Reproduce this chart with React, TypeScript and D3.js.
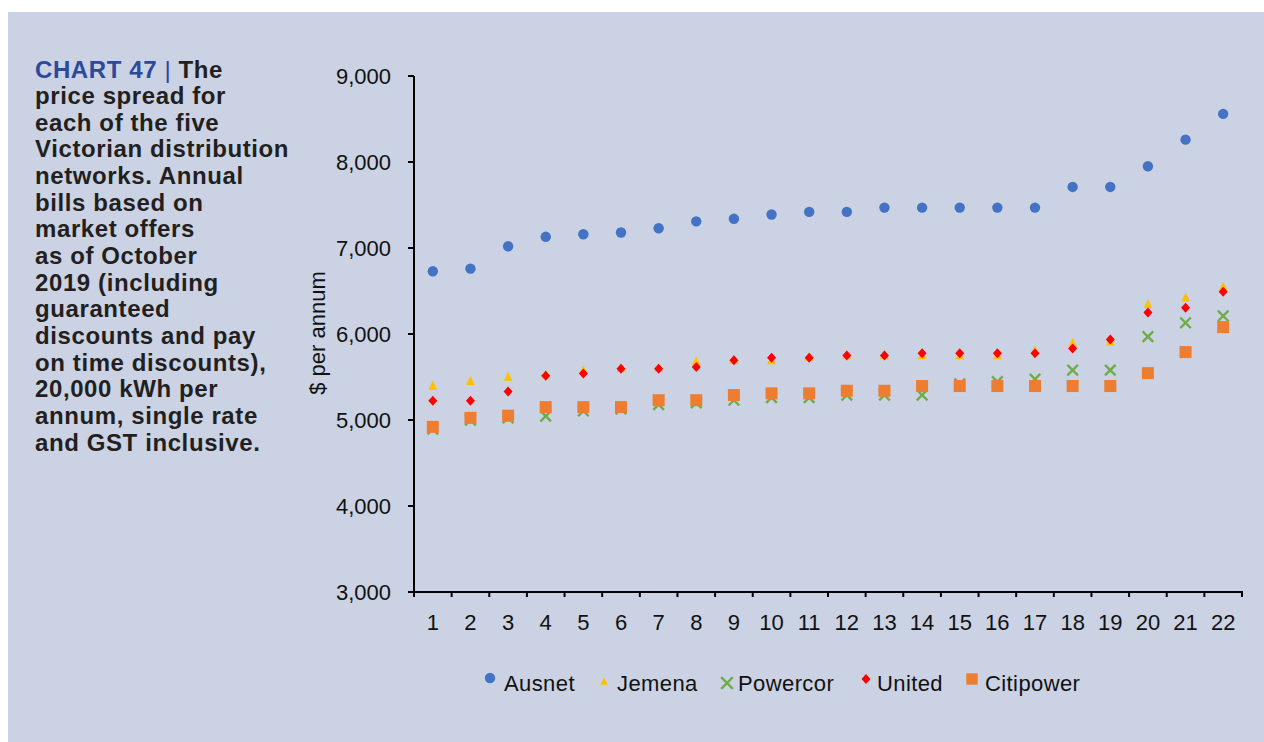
import React from "react";
import * as d3 from "d3";

const categories = Array.from({ length: 22 }, (_, i) => String(i + 1));
const ausnet = [6730, 6760, 7020, 7130, 7160, 7180, 7230, 7310, 7340, 7390, 7420, 7420, 7470, 7470, 7470, 7470, 7470, 7710, 7710, 7950, 8260, 8560];
const jemena = [5405, 5460, 5510, 5535, 5585, 5610, 5610, 5690, 5710, 5700, 5740, 5765, 5765, 5760, 5760, 5760, 5815, 5905, 5920, 6355, 6430, 6555];
const powercor = [4895, 5000, 5025, 5045, 5105, 5130, 5180, 5200, 5230, 5260, 5260, 5290, 5290, 5290, 5420, 5445, 5475, 5580, 5580, 5970, 6130, 6210];
const united = [5225, 5225, 5330, 5515, 5540, 5595, 5595, 5615, 5695, 5725, 5725, 5750, 5750, 5775, 5775, 5775, 5775, 5830, 5935, 6250, 6305, 6490];
const citipower = [4920, 5025, 5050, 5150, 5150, 5150, 5230, 5230, 5290, 5310, 5310, 5340, 5340, 5395, 5395, 5395, 5395, 5395, 5395, 5545, 5790, 6080];
const yTicks = [3000, 4000, 5000, 6000, 7000, 8000, 9000];

const seriesNames = ["Ausnet", "Jemena", "Powercor", "United", "Citipower"];
const seriesColors = ["#4472C4", "#FFC000", "#70AD47", "#FF0000", "#ED7D31"];
const seriesShapes = ["circle", "triangle", "x", "diamond", "square"];
const seriesData = [ausnet, jemena, powercor, united, citipower];

const titleLines = [
  "price spread for",
  "each of the five",
  "Victorian distribution",
  "networks. Annual",
  "bills based on",
  "market offers",
  "as of October",
  "2019 (including",
  "guaranteed",
  "discounts and pay",
  "on time discounts),",
  "20,000 kWh per",
  "annum, single rate",
  "and GST inclusive.",
];

const FONT = "'Liberation Sans', Arial, Helvetica, sans-serif";

function Marker({ shape, cx, cy, color, s = 1 }: any) {
  if (shape === "circle") return <circle cx={cx} cy={cy} r={5.2 * s} fill={color} />;
  if (shape === "triangle") {
    const w = 4.4 * s, h = 9 * s;
    return <path d={`M${cx},${cy - h / 2}L${cx + w},${cy + h / 2}L${cx - w},${cy + h / 2}Z`} fill={color} />;
  }
  if (shape === "diamond") {
    const w = 4.5 * s, h = 5 * s;
    return <path d={`M${cx},${cy - h}L${cx + w},${cy}L${cx},${cy + h}L${cx - w},${cy}Z`} fill={color} />;
  }
  if (shape === "square") {
    const a = 6 * s;
    return <rect x={cx - a} y={cy - a} width={2 * a} height={2 * a} fill={color} />;
  }
  const a = 5.3 * s;
  return (
    <path
      d={`M${cx - a},${cy - a}L${cx + a},${cy + a}M${cx - a},${cy + a}L${cx + a},${cy - a}`}
      stroke={color}
      strokeWidth={2.4}
      fill="none"
    />
  );
}

export default function App() {
  const width = 1264, height = 742;
  const x = d3.scaleBand<string>().domain(categories).range([414, 1242]).padding(0);
  const y = d3.scaleLinear().domain([3000, 9000]).range([592, 76]);
  const fmt = d3.format(",");
  const boundaries = d3.range(categories.length + 1).map((i) => 414 + i * x.step());

  const legendX = [490, 604, 727, 866, 972];
  const legendY = [678, 681, 683, 679, 679];
  const legendSize = [1, 0.85, 1.1, 1.0, 0.95];
  const legendTextX = [504, 617, 738, 877, 985];

  return (
    <div style={{ position: "absolute", left: 0, top: 0 }}>
      <svg width={width} height={height} style={{ display: "block" }} fontFamily={FONT}>
        <rect x={0} y={0} width={width} height={height} fill="#ffffff" />
        <rect x={8} y={12} width={width - 8} height={height - 12} fill="#CAD2E3" />

        {/* Title block */}
        <g fontSize={24} fontWeight="bold" fill="#231F20" letterSpacing={0.6}>
          <text x={35} y={77.5}>
            <tspan fill="#2B4A9B">CHART 47 </tspan>
            <tspan fill="#2B4A9B" fontWeight="normal">|</tspan>
            <tspan> The</tspan>
          </text>
          {titleLines.map((t, i) => (
            <text key={i} x={35} y={77.5 + (i + 1) * 26.66}>
              {t}
            </text>
          ))}
        </g>

        {/* Y axis label */}
        <text transform={`translate(325,333) rotate(-90)`} textAnchor="middle" fontSize={22} fill="#111">
          $ per annum
        </text>

        {/* Y axis */}
        <line x1={414} x2={414} y1={y(9000)} y2={597} stroke="#000" strokeWidth={2} />
        {yTicks.map((t) => (
          <g key={t}>
            <line x1={408} x2={414} y1={y(t)} y2={y(t)} stroke="#000" strokeWidth={2} />
            <text x={391} y={y(t) + 8} textAnchor="end" fontSize={22} fill="#111">
              {fmt(t)}
            </text>
          </g>
        ))}

        {/* X axis */}
        <line x1={408} x2={1243} y1={592} y2={592} stroke="#000" strokeWidth={2} />
        {boundaries.map((b, i) => (
          <line key={i} x1={b} x2={b} y1={592} y2={597} stroke="#000" strokeWidth={2} />
        ))}
        {categories.map((c) => (
          <text key={c} x={(x(c) as number) + x.bandwidth() / 2} y={630} textAnchor="middle" fontSize={22} fill="#111">
            {c}
          </text>
        ))}

        {/* Series */}
        {seriesData.map((data, si) => (
          <g key={si}>
            {data.map((v, i) => (
              <Marker
                key={i}
                shape={seriesShapes[si]}
                cx={(x(categories[i]) as number) + x.bandwidth() / 2}
                cy={y(v)}
                color={seriesColors[si]}
              />
            ))}
          </g>
        ))}

        {/* Legend */}
        {seriesNames.map((n, i) => (
          <g key={n}>
            <Marker shape={seriesShapes[i]} cx={legendX[i]} cy={legendY[i]} color={seriesColors[i]} s={legendSize[i]} />
            <text x={legendTextX[i]} y={690.5} fontSize={22} fill="#111" letterSpacing={0.4}>
              {n}
            </text>
          </g>
        ))}
      </svg>
    </div>
  );
}
